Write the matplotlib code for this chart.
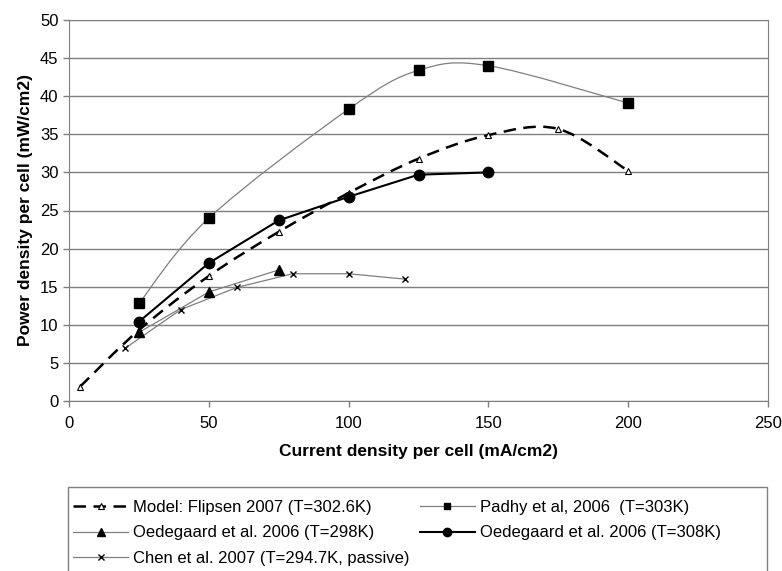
import numpy as np
import matplotlib.pyplot as plt
from matplotlib.path import Path
from matplotlib.patches import PathPatch, Rectangle
from matplotlib.lines import Line2D

plt.rcParams['font.family'] = ['Liberation Sans', 'DejaVu Sans']

model_x = [4, 25, 50, 75, 100, 125, 150, 175, 200]
model_y = [1.9, 9.3, 16.4, 22.2, 27.3, 31.8, 34.9, 35.7, 30.2]

padhy_x = [25, 50, 100, 125, 150, 200]
padhy_y = [12.8, 24.0, 38.3, 43.4, 44.0, 39.1]

oed298_x = [25, 50, 75]
oed298_y = [9.0, 14.3, 17.2]

oed308_x = [25, 50, 75, 100, 125, 150]
oed308_y = [10.4, 18.1, 23.7, 26.8, 29.7, 30.0]

chen_x = [20, 40, 60, 80, 100, 120]
chen_y = [6.9, 12.0, 14.9, 16.7, 16.7, 16.0]

labels = ["Model: Flipsen 2007 (T=302.6K)",
          "Padhy et al, 2006  (T=303K)",
          "Oedegaard et al. 2006 (T=298K)",
          "Oedegaard et al. 2006 (T=308K)",
          "Chen et al. 2007 (T=294.7K, passive)"]

GRAY = "#7f7f7f"
W, H = 782, 571


def smooth_path(x, y):
    # Excel-style smoothed line: cubic Bezier segments through the data points
    p = np.column_stack([x, y]).astype(float)
    verts = [p[0]]
    codes = [Path.MOVETO]
    n = len(p)
    for i in range(n - 1):
        p0 = p[i - 1] if i > 0 else p[i]
        p3 = p[i + 2] if i + 2 < n else p[i + 1]
        c1 = p[i] + (p[i + 1] - p0) / 6
        c2 = p[i + 1] - (p3 - p[i]) / 6
        verts += [c1, c2, p[i + 1]]
        codes += [Path.CURVE4] * 3
    return Path(verts, codes)


fig = plt.figure(figsize=(W / 100, H / 100), dpi=100)
ax = fig.add_axes([69 / W, 1 - 401 / H, 699 / W, 381 / H])

# (x, y, line style, marker style, legend marker size, smoothed)
series = [
    (model_x, model_y, dict(color="black", lw=1.8, ls=(0, (5, 3))),
     dict(marker="^", ms=5, mfc="white", mec="black", mew=0.8), 4, True),
    (padhy_x, padhy_y, dict(color=GRAY, lw=0.9, ls="-"),
     dict(marker="s", ms=7.5, mfc="black", mec="black"), 5, True),
    (oed298_x, oed298_y, dict(color=GRAY, lw=0.9, ls="-"),
     dict(marker="^", ms=7.5, mfc="black", mec="black"), 6, False),
    (oed308_x, oed308_y, dict(color="black", lw=1.5, ls="-"),
     dict(marker="o", ms=7.5, mfc="black", mec="black"), 6, False),
    (chen_x, chen_y, dict(color=GRAY, lw=0.9, ls="-"),
     dict(marker="x", ms=5, mec="black", mew=1.0), 4, False),
]

handles = []
for (x, y, lkw, mkw, lms, smooth), lab in zip(series, labels):
    if smooth:
        ax.add_patch(PathPatch(smooth_path(x, y), fill=False, edgecolor=lkw["color"],
                               lw=lkw["lw"], ls=lkw["ls"], zorder=3))
    else:
        ax.plot(x, y, zorder=3, **lkw)
    ax.plot(x, y, ls="none", zorder=4, **mkw)
    hk = dict(mkw)
    hk["ms"] = lms
    handles.append(Line2D([], [], color=lkw["color"], lw=lkw["lw"], ls=lkw["ls"], **hk))

ax.set_xlim(0, 250)
ax.set_ylim(0, 50)
ax.set_xticks(range(0, 251, 50))
ax.set_yticks(range(0, 51, 5))
ax.yaxis.grid(True, color=GRAY, lw=1)
ax.set_axisbelow(True)
for s in ax.spines.values():
    s.set_color(GRAY)
ax.tick_params(colors=GRAY, labelcolor="black", labelsize=12, length=4, width=1)
ax.tick_params(axis="x", pad=7)

ax.set_xlabel("Current density per cell (mA/cm2)", fontsize=12.5, fontweight="bold", labelpad=9)
ax.set_ylabel("Power density per cell (mW/cm2)", fontsize=12.5, fontweight="bold", labelpad=5)

# legend box, cut by the bottom edge as in the source
fig.patches.append(Rectangle((68 / W, -0.02), 699 / W, 0.02 + 1 - 487 / H,
                             transform=fig.transFigure, fill=False,
                             edgecolor=GRAY, lw=1))

order = [0, 2, 4, 1, 3]
leg = fig.legend([handles[i] for i in order], [labels[i] for i in order],
                 ncol=2, loc="upper left", bbox_to_anchor=(68 / W, 1 - 495 / H),
                 fontsize=12, frameon=False, borderaxespad=0, borderpad=0.3,
                 handlelength=3.3, handletextpad=0.3, labelspacing=0.62,
                 columnspacing=0.6)

fig.savefig("out.png", dpi=100)
